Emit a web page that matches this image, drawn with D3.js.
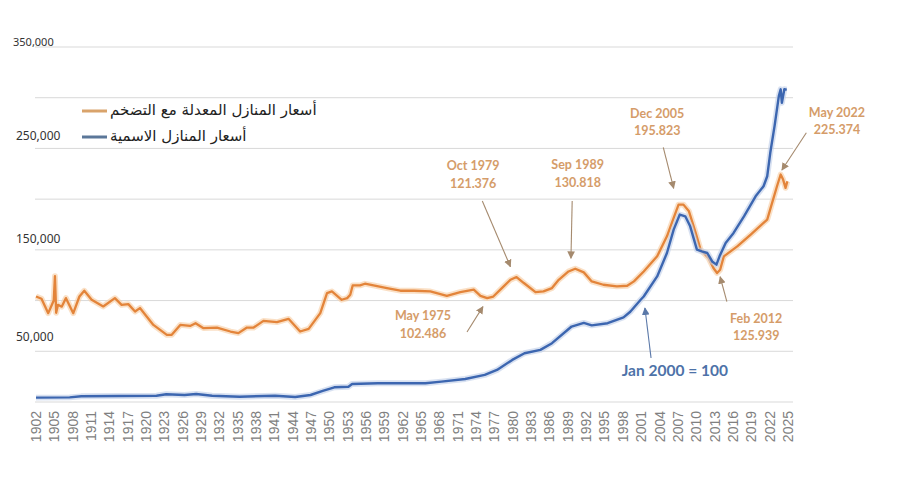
<!DOCTYPE html>
<html><head><meta charset="utf-8">
<script src="https://cdn.jsdelivr.net/npm/d3@7"></script>
<style>body{margin:0;background:#fff}svg{display:block}</style>
</head><body>
<svg id="c" width="900" height="500"></svg>
<script>
// ---------- DATA ----------
const seriesNames = ["أسعار المنازل المعدلة مع التضخم", "أسعار المنازل الاسمية"];
const realYears = [1902.0,1902.9,1904.0,1904.6,1904.9,1905.1,1905.3,1905.6,1906.2,1906.9,1908.1,1909.1,1909.9,1911.1,1913.0,1914.9,1916.0,1917.1,1918.2,1919.0,1921.2,1923.4,1924.2,1925.6,1927.2,1928.1,1929.4,1931.6,1933.8,1935.1,1936.5,1937.6,1939.2,1941.4,1943.3,1945.2,1946.6,1948.5,1949.6,1950.4,1952.0,1952.9,1953.4,1953.8,1955.0,1955.8,1957.2,1959.4,1961.6,1963.8,1966.5,1969.2,1971.4,1973.6,1974.7,1975.8,1976.8,1978.2,1979.6,1980.6,1981.8,1983.7,1985.0,1986.4,1987.5,1989.1,1990.2,1991.6,1992.9,1994.8,1997.0,1998.7,1999.8,2001.4,2003.6,2005.2,2006.3,2007.1,2007.9,2008.8,2009.9,2010.7,2012.0,2012.8,2013.4,2013.9,2014.5,2016.7,2018.9,2021.0,2021.6,2022.4,2023.2,2023.8,2024.2,2024.6,2024.9];
const realValues = [104,101.8,87.6,95.8,100,124,88,95.8,94,102.4,87.6,104,109.7,100.8,94.2,102.4,95.8,96.5,89.2,92.6,76,66.2,66.2,76,75,77.7,72.8,73.4,69.5,67.9,73.4,73.4,80,78.7,82,69.5,72.1,87.6,107.4,109,100.8,102.4,105.7,114.9,114.9,116.6,114.9,112.3,109.7,109.7,109,104.7,108.4,110.7,104.7,102.4,104,112.3,120.5,123.2,117.3,108.4,109,112.3,120.5,128.7,131.4,127.8,118.9,115.6,113.9,114.6,118.9,128.7,143.6,163.3,181.5,194.6,194.6,188,166.7,150.2,142,132.1,127.2,130.4,143.6,153.4,165,176.6,179.8,196.3,212.7,224.3,219.3,211.1,217.7];
const nominalYears = [1902.0,1907.5,1909.4,1921.7,1923.3,1926.3,1928.2,1930.8,1935.3,1941.1,1944.4,1946.9,1948.9,1950.8,1953.1,1953.7,1957.9,1965.7,1968.3,1972.2,1975.4,1977.4,1979.9,1981.9,1984.5,1986.4,1989.6,1991.6,1992.9,1995.5,1998.1,1999.2,2000.9,2001.4,2003.6,2005.2,2006.3,2007.3,2008.2,2009.0,2010.1,2010.9,2011.8,2012.6,2013.3,2013.8,2014.8,2016.1,2017.8,2019.7,2021.0,2021.6,2022.1,2022.8,2023.5,2023.8,2024.0,2024.4,2024.8];
const nominalValues = [4.3,4.6,5.6,6.2,7.6,6.9,7.9,6.2,5.2,6.2,4.9,6.9,10.9,14.5,15.1,17.8,18.5,18.5,20.1,22.7,26.7,31.6,41.5,48.1,51.4,58,74.4,78,75.5,77.7,83.5,89,100.8,104,123.8,146.9,169.9,184.8,183.1,173.2,150.2,148.5,146.9,138.6,135.4,143.6,156.8,166.7,183.1,202.8,212.7,222.6,245.7,272,301.6,308.3,295,308.3,308];
const xTickYears = d3.range(1902, 2026, 3);
const yTickValues = [350, 250, 150, 50];
const yTickLabels = ["350,000", "250,000", "150,000", "50,000"];
const gridValues = [0, 50, 100, 150, 200, 250, 300, 350];
const annoTexts = [["Oct 1979","121.376"],["Sep 1989","130.818"],["May 1975","102.486"],["Dec 2005","195.823"],["Feb 2012","125.939"],["May 2022","225.374"]];
const baseNote = "Jan 2000 = 100";

// ---------- LAYOUT ----------
const svg = d3.select("#c");
const x = d3.scaleLinear().domain([1902, 2025]).range([36, 788]);
const y = d3.scaleLinear().domain([0, 350]).range([402, 47]);
const C = {orange:"#e3843a", orangeGlow:"#f8cfa8", blue:"#3c66b0", blueGlow:"#c3d1ea",
  grid:"#d9d9d9", tick:"#808080", anno:"#d59c69", arrow:"#a58a6e", blueText:"#4d72a8"};

// gridlines
svg.append("g").selectAll("line").data(gridValues).join("line")
  .attr("x1", 35).attr("x2", 793)
  .attr("y1", d => y(d)).attr("y2", d => y(d))
  .attr("stroke", C.grid).attr("stroke-width", 1);

// y labels (sit just above their gridlines)
const yOff = [-1, -8, -7, -10];
const ySize = [11, 12, 12, 12];
const yX = [13, 16, 16, 16];
svg.append("g").selectAll("text").data(yTickValues).join("text")
  .attr("x", (d,i) => yX[i]).attr("y", (d,i) => y(d) + yOff[i])
  .attr("font-family", "Noto Sans, sans-serif").attr("font-size", (d,i) => ySize[i])
  .attr("fill", "#333").text((d,i) => yTickLabels[i]);

// x labels
svg.append("g").selectAll("text").data(xTickYears).join("text")
  .attr("transform", d => `translate(${x(d)},411) rotate(-90)`)
  .attr("text-anchor", "end").attr("dy", "0.35em")
  .attr("font-family", "Liberation Sans, Arial, sans-serif").attr("font-size", 14)
  .attr("fill", C.tick).text(d => d);

// lines
const line = d3.line().x(d => x(d[0])).y(d => y(d[1]));
const realData = realYears.map((t,i) => [t, realValues[i]]);
const nomData = nominalYears.map((t,i) => [t, nominalValues[i]]);
function drawSeries(data, glow, col, w) {
  svg.append("path").datum(data).attr("d", line).attr("fill","none")
    .attr("stroke", glow).attr("stroke-width", w + 3.5).attr("stroke-opacity", 0.65)
    .attr("stroke-linejoin","round");
  svg.append("path").datum(data).attr("d", line).attr("fill","none")
    .attr("stroke", col).attr("stroke-width", w).attr("stroke-linejoin","round");
}
drawSeries(realData, C.orangeGlow, C.orange, 2.3);
drawSeries(nomData, C.blueGlow, C.blue, 2.4);

// legend
const legColors = ["#d9a36b", "#5b7799"];
const legY = [110, 136];
const lg = svg.append("g");
seriesNames.forEach((n,i) => {
  lg.append("line").attr("x1", 82).attr("x2", 107).attr("y1", legY[i]+1).attr("y2", legY[i]+1)
    .attr("stroke", legColors[i]).attr("stroke-width", 3);
  lg.append("text").attr("x", 110).attr("y", legY[i]).attr("dominant-baseline","central")
    .attr("font-family", "DejaVu Sans, Noto Sans, sans-serif").attr("font-size", 15)
    .attr("fill", "#222").text(n);
});

// annotations
const defs = svg.append("defs");
function marker(id, col) {
  defs.append("marker").attr("id", id).attr("viewBox","0 0 10 10").attr("refX",9).attr("refY",5)
    .attr("markerWidth",7).attr("markerHeight",7).attr("orient","auto-start-reverse")
    .append("path").attr("d","M0,0 L10,5 L0,10 z").attr("fill", col);
}
marker("ao", C.arrow); marker("ab", "#5a78a8");
const annoLabelPos = [[1973.5,232.7],[1990.6,233.7],[1965.3,84.8],[2003.6,284.9],[2019.8,82.8],[2033.0,285.9]];
const annoArrows = [[[1975.0,198.2],[1979.6,133.4]],[[1989.7,198.2],[1989.5,141.7]],[[1972.5,69.0],[1975.1,94.0]],
  [[2004.6,251.1],[2006.3,210.7]],[[2015.0,98.9],[2013.9,123.5]],[[2028.0,265.5],[2024.0,228.7]]];
const ag = svg.append("g");
annoTexts.forEach((t,i) => {
  const [ax, ay] = annoLabelPos[i];
  t.forEach((s,j) => {
    ag.append("text").attr("x", x(ax)).attr("y", y(ay) + j*17.5).attr("text-anchor","middle")
      .attr("dominant-baseline","central").attr("font-family","Lato, sans-serif")
      .attr("font-weight","bold").attr("font-size", 12.5).attr("fill", C.anno).text(s);
  });
  const [p0, p1] = annoArrows[i];
  ag.append("line").attr("x1", x(p0[0])).attr("y1", y(p0[1])).attr("x2", x(p1[0])).attr("y2", y(p1[1]))
    .attr("stroke", C.arrow).attr("stroke-width", 1.1).attr("marker-end","url(#ao)");
});
ag.append("text").attr("x", x(1997.8)).attr("y", y(31.5)).attr("dominant-baseline","central")
  .attr("font-family","Lato, sans-serif").attr("font-weight","bold").attr("font-size",15.5)
  .attr("fill", C.blueText).text(baseNote);
ag.append("line").attr("x1", x(2002.6)).attr("y1", y(43.4)).attr("x2", x(2001.6)).attr("y2", y(92.7))
  .attr("stroke", "#5a78a8").attr("stroke-width", 1.1).attr("marker-end","url(#ab)");
</script>
</body></html>
